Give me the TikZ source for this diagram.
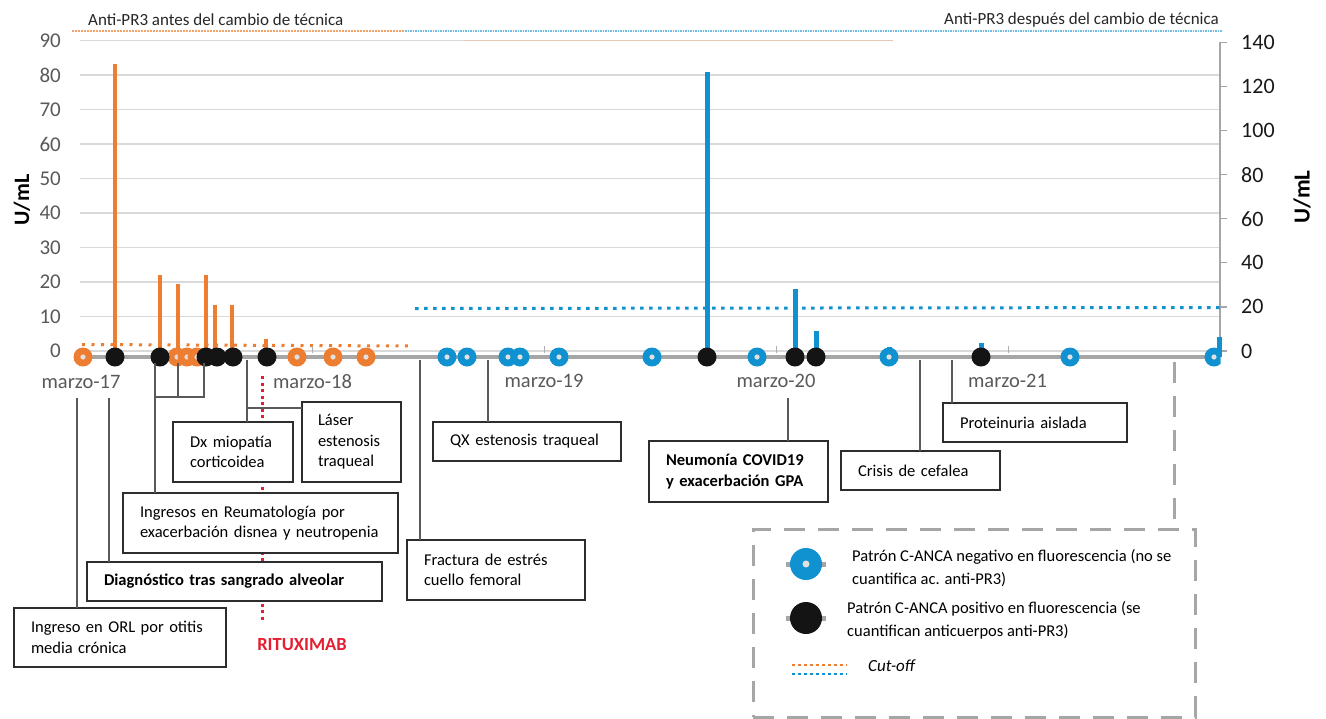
\documentclass[tikz,border=0pt]{standalone}
\usepackage{fontspec}
\setmainfont{Carlito}
\definecolor{orng}{RGB}{237,125,49}
\definecolor{blu}{RGB}{16,146,208}
\definecolor{rit}{RGB}{230,30,50}
\definecolor{gridc}{RGB}{217,217,217}
\definecolor{basec}{RGB}{166,166,166}
\definecolor{linec}{RGB}{89,89,89}
\definecolor{boxc}{RGB}{45,45,45}
\definecolor{lblc}{RGB}{89,89,89}
\definecolor{tanc}{RGB}{228,200,180}
\begin{document}
\begin{tikzpicture}[x=1pt,y=-1pt,
  grid/.style={draw=gridc, line width=1.2pt},
  box/.style={draw=boxc, line width=1.8pt, fill=white, anchor=north west, outer sep=0pt,
    inner xsep=17pt, inner ysep=0pt, align=left, text=black,
    font=\fontsize{16.5}{20.5}\selectfont},
  conn/.style={draw=linec, line width=1.3pt},
  mk/.style={circle, minimum size=19pt, inner sep=0pt, outer sep=0pt},
  mo/.style={mk, fill=orng, path picture={\fill[white!88!black] (path picture bounding box.center) circle (2.6pt);}},
  mbl/.style={mk, fill=blu, path picture={\fill[white!88!black] (path picture bounding box.center) circle (2.6pt);}},
  mb/.style={mk, fill=black!92},
  stemo/.style={draw=orng, line width=4.5pt},
  stemb/.style={draw=blu, line width=5pt},
  cutoffo/.style={draw=orng, line width=3pt, dash pattern=on 3pt off 6.5pt},
  cutoffb/.style={draw=blu, line width=3pt, dash pattern=on 3.5pt off 5.5pt},
  ylab/.style={font=\fontsize{21}{21}\selectfont, inner sep=0pt},
  xlab/.style={font=\fontsize{20.5}{20.5}\selectfont, text=lblc, inner sep=0pt},
  legdash/.style={draw=basec, line width=3pt, dash pattern=on 21pt off 13pt}
]
\useasboundingbox (0,0) rectangle (1326,718);
% gridlines
\draw[grid] (80,40.5) -- (893,40.5);
\foreach \k in {0,...,8} \draw[grid] (80,351-34.5*\k) -- (1220,351-34.5*\k);
\draw[draw=tanc, line width=1.5pt] (465,40.5) -- (893,40.5);
% right axis
\draw[draw=basec, line width=1.2pt] (1220,42) -- (1220,357);
\foreach \k in {0,...,7} \draw[draw=basec, line width=1.2pt] (1220,351-44.1*\k) -- (1227,351-44.1*\k);
% axis labels
\foreach \v [count=\k from 0] in {0,10,20,30,40,50,60,70,80,90}
  \node[ylab, text=lblc, anchor=east] (yl\k) at (61,351-34.5*\k) {\v};
\foreach \v [count=\k from 0] in {0,20,40,60,80,100,120,140}
  \node[ylab, text=black!90, anchor=west, font=\fontsize{22}{22}\selectfont] (yr\k) at (1241,351-44.1*\k) {\v};
\node[rotate=90, font=\bfseries\fontsize{22}{22}\selectfont] (ul) at (22,200) {U/mL};
\node[rotate=90, font=\bfseries\fontsize{23}{23}\selectfont] (ur) at (1302,197) {U/mL};
% header
\node[anchor=west, inner sep=0pt, font=\fontsize{17}{17}\selectfont, text=black!85] (h1) at (88,20) {Anti-PR3 antes del cambio de técnica};
\node[anchor=east, inner sep=0pt, font=\fontsize{17}{17}\selectfont, text=black!85] (h2) at (1219,20) {Anti-PR3 después del cambio de técnica};
\draw[draw=orng!70, line width=1.2pt, dash pattern=on 2pt off 1pt] (72,31) -- (405,31);
\draw[draw=blu!60, line width=1.2pt, dash pattern=on 1.5pt off 1pt] (405,31) -- (1222,31);
% cut-off lines
\draw[cutoffo] (82,344.5) -- (410,346);
\draw[cutoffb] (415,308.5) -- (1220,307.5);
% baseline and ticks
\foreach \x in {312,544,776,1008} \draw[draw=gridc!80!black, line width=1pt] (\x,346) -- (\x,353);
\draw[draw=basec, line width=4.5pt] (75,357) -- (1218,357);
% x labels
\node[xlab] (x17) at (81,382) {marzo-17};
\node[xlab] (x18) at (312.5,382) {marzo-18};
\node[xlab] (x19) at (544,381) {marzo-19};
\node[xlab] (x20) at (776,381) {marzo-20};
\node[xlab] (x21) at (1007.5,381) {marzo-21};
% rituximab dotted line
\coordinate (r1) at (262,376);
\node[font=\bfseries\fontsize{18.5}{18.5}\selectfont, text=rit, inner sep=0pt] (rit) at (302,645) {RITUXIMAB};
\coordinate (r2) at (262,622);
\draw[draw=rit, line width=3pt, dash pattern=on 3pt off 3.5pt] (r1) -- (r2);
% stems
\draw[stemo] (115,357) -- (115,64);
\draw[stemo] (160,357) -- (160,275);
\draw[stemo] (178,357) -- (178,284);
\draw[stemo] (206,357) -- (206,275);
\draw[stemo] (215,357) -- (215,305);
\draw[stemo] (232,357) -- (232,305);
\draw[stemo] (266,357) -- (266,339);
\draw[stemb] (707,357) -- (707,72);
\draw[stemb] (795,357) -- (795,289);
\draw[stemb] (816,357) -- (816,331);
\draw[stemb] (889,357) -- (889,347);
\draw[stemb] (981,357) -- (981,343);
\draw[stemb] (1219,357) -- (1219,337);
% markers
\foreach \x [count=\i] in {83,177,187,197,297,333,366} \node[mo] (o\i) at (\x,357) {};
\foreach \x [count=\i] in {447,467,508,520,559,652,757,889,1070} \node[mbl] (u\i) at (\x,357) {};
\foreach \x [count=\i] in {115,160,206,217,233,267,707,795,816,981} \node[mb] (b\i) at (\x,357) {};
\begin{scope}
\clip (1150,330) rectangle (1220.5,380);
\node[mbl] (u10) at (1214,357) {};
\end{scope}
% event boxes
\node[box, minimum width=212pt, minimum height=59pt, text width=178pt] (orl) at (14,608) {Ingreso en ORL por otitis\\media crónica};
\node[box, minimum width=295pt, minimum height=39pt, text width=261pt, font=\bfseries\fontsize{16.5}{20.5}\selectfont] (diag) at (87,562) {Diagnóstico tras sangrado alveolar};
\node[box, minimum width=275pt, minimum height=60pt, text width=241pt] (ingr) at (123,493) {Ingresos en Reumatología por\\exacerbación disnea y neutropenia};
\node[box, minimum width=120pt, minimum height=60pt, text width=86pt] (dx) at (173,422) {\mbox{Dx miopatía}\\corticoidea};
\node[box, minimum width=99pt, minimum height=80pt, text width=67pt, inner xsep=16pt] (laser) at (302,402) {Láser\\estenosis\\traqueal};
\node[box, minimum width=178pt, minimum height=60pt, text width=144pt] (fract) at (407,540) {Fractura de estrés\\cuello femoral};
\node[box, minimum width=188pt, minimum height=39pt, text width=154pt] (qx) at (433,422) {QX estenosis traqueal};
\node[box, minimum width=179pt, minimum height=61pt, text width=145pt, font=\bfseries\fontsize{16.5}{20.5}\selectfont] (covid) at (649,441) {Neumonía COVID19\\y exacerbación GPA};
\node[box, minimum width=159pt, minimum height=39pt, text width=125pt] (crisis) at (841,451) {Crisis de cefalea};
\node[box, minimum width=184pt, minimum height=39pt, text width=150pt] (prot) at (943,403) {Proteinuria aislada};
% connectors
\coordinate (cOrl) at (77,398);
\draw[conn] (cOrl) -- (cOrl |- orl.north);
\coordinate (cDiag) at (109,398);
\draw[conn] (cDiag) -- (cDiag |- diag.north);
\coordinate (cI1) at (155,363);
\coordinate (cI2) at (178,363);
\coordinate (cI3) at (204,363);
\coordinate (cIj) at (155,397);
\draw[conn] (cI1) -- (cI1 |- ingr.north);
\draw[conn] (cI2) -- (cI2 |- cIj);
\draw[conn] (cI3) -- (cI3 |- cIj) -- (cIj);
\draw[draw=linec, line width=2.2pt] (cIj) -- ++(0,30);
\coordinate (cDx) at (247,360);
\draw[conn] (cDx) -- (cDx |- dx.north);
\coordinate (cLj) at (247,408);
\draw[conn] (cLj) -- (cLj -| laser.west);
\coordinate (cFr) at (420,360);
\draw[conn] (cFr) -- (cFr |- fract.north);
\coordinate (cQx) at (488,360);
\draw[conn] (cQx) -- (cQx |- qx.north);
\coordinate (cCov) at (788,398);
\draw[conn] (cCov) -- (cCov |- covid.north);
\coordinate (cCr) at (920,360);
\draw[conn] (cCr) -- (cCr |- crisis.north);
\coordinate (cPr) at (952,360);
\draw[conn] (cPr) -- (cPr |- prot.north);
% legend
\node[draw=basec, line width=3pt, dash pattern=on 21pt off 13pt, anchor=north west, minimum width=442pt, minimum height=188pt, inner sep=0pt, outer sep=0pt] (leg) at (753,529) {};
\coordinate (cLeg) at (1174,362);
\draw[legdash] (cLeg) -- (cLeg |- leg.north);
\draw[draw=basec, line width=5pt] (786,564) -- (826,564);
\node[mk, minimum size=32pt, fill=blu, path picture={\fill[white!88!black] (path picture bounding box.center) circle (3.5pt);}] (lgb) at (806,564) {};
\draw[draw=basec, line width=5pt] (786,618) -- (826,618);
\node[mk, minimum size=32pt, fill=black!92] (lgk) at (806,618) {};
\node[anchor=west, align=left, inner sep=0pt, font=\fontsize{16.5}{23}\selectfont] (lt1) at (852,568) {Patrón C-ANCA negativo en fluorescencia (no se\\cuantifica ac. anti-PR3)};
\node[anchor=west, align=left, inner sep=0pt, font=\fontsize{16.5}{23}\selectfont] (lt2) at (847,620) {Patrón C-ANCA positivo en fluorescencia (se\\cuantifican anticuerpos anti-PR3)};
\coordinate (lc1) at (792,665);
\coordinate (lc2) at (792,674);
\draw[draw=orng, line width=2.5pt, dash pattern=on 2.5pt off 3.5pt] (lc1) -- ++(55,0);
\draw[draw=blu, line width=2.5pt, dash pattern=on 2.5pt off 3.5pt] (lc2) -- ++(55,0);
\node[anchor=west, inner sep=0pt, font=\itshape\fontsize{17}{17}\selectfont] (lt3) at (868,666) {Cut-off};
\end{tikzpicture}
\end{document}
